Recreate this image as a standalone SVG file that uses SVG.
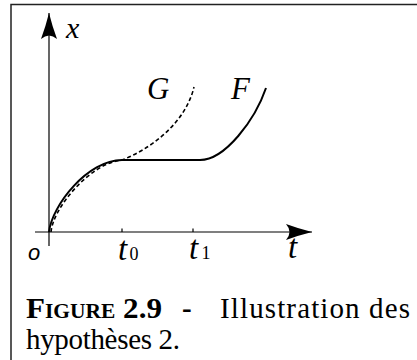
<svg xmlns="http://www.w3.org/2000/svg" width="417" height="360" viewBox="0 0 417 360">
<style>
.frame{fill:none;stroke:#222;stroke-width:1.5}
.axis{fill:none;stroke:#000;stroke-width:1.2}
.curve{fill:none;stroke:#000;stroke-width:2}
.dash{fill:none;stroke:#000;stroke-width:1.6;stroke-dasharray:4 2.6}
.lbl{fill:#000}
.cap{font-family:"Liberation Serif",serif;fill:#000;font-size:29px}
</style>
<defs>
<marker id="arr" markerUnits="userSpaceOnUse" viewBox="-27 -9 28 18" refX="0" refY="0" markerWidth="28" markerHeight="18" orient="auto">
<path d="M0,0 Q-13,3.2 -26,8 Q-19,0 -26,-8 Q-13,-3.2 0,0Z" fill="#000"/>
</marker>
</defs>
<rect width="417" height="360" fill="#fff"/>
<g id="frame">
<path class="frame" d="M11,360 V4.5 H417"/>
</g>
<g id="axes">
<line class="axis" x1="49" y1="246" x2="49" y2="13" marker-end="url(#arr)"/>
<line class="axis" x1="35" y1="232" x2="312" y2="232" marker-end="url(#arr)"/>
<line class="axis" x1="122" y1="228.5" x2="122" y2="232"/>
<line class="axis" x1="193" y1="228.5" x2="193" y2="232"/>
</g>
<g id="connectors">
<path id="curve-G" class="dash" d="M51,232 C53,208 90,163 122,160 C148,150 185,125 194,87"/>
<path id="curve-F" class="curve" d="M49,232 C52,205 88,160 122,160 H200 C225,160 255,120 266,88"/>
</g>
<g id="labels" font-family="Liberation Serif, serif">
<text class="lbl" x="66" y="38" font-size="30" font-style="italic">x</text>
<text class="lbl" x="147" y="99" font-size="31" font-style="italic">G</text>
<text class="lbl" x="231" y="99" font-size="31" font-style="italic">F</text>
<text class="lbl" x="28" y="260" font-family="Liberation Sans, sans-serif" font-style="italic" font-size="22">o</text>
<text class="lbl" x="118" y="260" font-size="33" font-style="italic">t</text><text class="lbl" x="129.5" y="260" font-size="18">0</text>
<text class="lbl" x="189" y="259" font-size="33" font-style="italic">t</text><text class="lbl" x="201.5" y="259" font-size="18">1</text>
<text class="lbl" x="288" y="258" font-size="33" font-style="italic">t</text>
</g>
<g id="caption">
<text class="cap" x="26" y="318" font-weight="bold" font-variant="small-caps" textLength="136" lengthAdjust="spacingAndGlyphs">Figure 2.9</text>
<text class="cap" x="182" y="318" font-weight="bold">-</text>
<text class="cap" x="220" y="318" textLength="190" lengthAdjust="spacing">Illustration des</text>
<text class="cap" x="26" y="349" textLength="154" lengthAdjust="spacing">hypothèses 2.</text>
</g>
</svg>
